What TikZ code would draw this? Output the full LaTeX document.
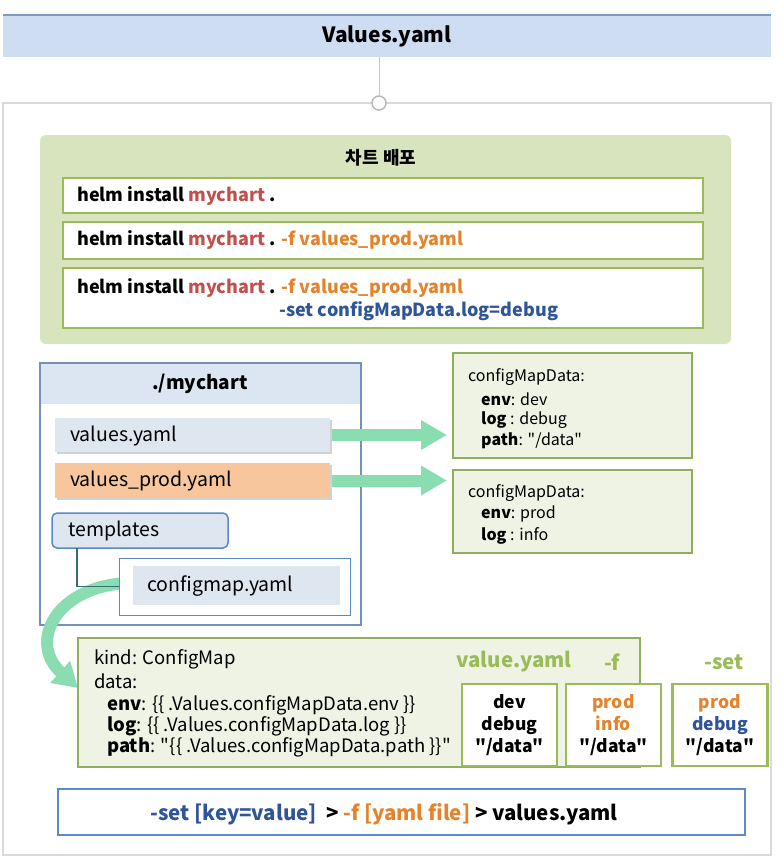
\documentclass[tikz,border=0pt]{standalone}
\usepackage{fontspec}
\setmainfont{Noto Sans CJK KR}[Ligatures=TeXOff]
\usetikzlibrary{arrows.meta,shadows}
\newcommand\dq{"}
\definecolor{topblue}{HTML}{CFDDF2}
\definecolor{topline}{HTML}{7D9CC0}
\definecolor{framegray}{HTML}{DADADA}
\definecolor{panelgreen}{HTML}{D7E4BD}
\definecolor{boxgreen}{HTML}{9BBB59}
\definecolor{chartred}{HTML}{C0504D}
\definecolor{forange}{HTML}{E4832C}
\definecolor{setblue}{HTML}{2F5597}
\definecolor{hdrblue}{HTML}{DCE6F2}
\definecolor{fileblue}{HTML}{DEE6F0}
\definecolor{orangefill}{HTML}{F8C69D}
\definecolor{tmplborder}{HTML}{5B8AC6}
\definecolor{mcborder}{HTML}{7292BA}
\definecolor{arrowgreen}{HTML}{89DDB0}
\definecolor{lightgreen}{HTML}{EEF3E4}
\definecolor{cmborder}{HTML}{8FAF5F}
\definecolor{tealline}{HTML}{31706C}
\tikzset{
  box/.style={rectangle, inner sep=0pt, outer sep=0pt},
  cmdbox/.style={box, fill=white, draw=boxgreen, line width=2pt, minimum width=640},
  filebox/.style={box, minimum width=275, drop shadow={shadow xshift=1.5pt, shadow yshift=-2pt, opacity=0.35}},
  databox/.style={box, fill=lightgreen, draw=cmborder, line width=1.5pt},
  valbox/.style={box, fill=white, draw=boxgreen, line width=2.5pt, minimum width=95, minimum height=82, align=center, font=\bfseries\fontsize{17.5}{22}\selectfont},
  lbl/.style={anchor=west, inner sep=0pt},
  cmdtxt/.style={lbl, font=\bfseries\fontsize{18}{20}\selectfont},
  filetxt/.style={lbl, font=\fontsize{19.5}{22}\selectfont},
  datatxt/.style={lbl, font=\fontsize{16}{19}\selectfont},
  kindtxt/.style={lbl, font=\fontsize{18.5}{19}\selectfont},
  head/.style={inner sep=0pt, font=\bfseries\fontsize{20.5}{22}\selectfont, text=boxgreen},
  bigarrow/.style={arrowgreen, line width=12pt, -{Triangle[length=26pt, width=28pt]}}
}
\begin{document}
\begin{tikzpicture}[x=1pt,y=-1pt]
\useasboundingbox (0,0) rectangle (784,859);
\fill[white] (0,0) rectangle (784,859);
% outer frame
\node[box, draw=framegray, line width=2.5pt, minimum width=768, minimum height=752] (frame) at (387,479) {};
% top bar
\node[box, fill=topblue, minimum width=768, minimum height=42, font=\bfseries\fontsize{21}{24}\selectfont] (top) at (387,36) {Values.yaml};
\draw[topline, line width=2pt] (top.north west) -- (top.north east);
\node[circle, draw=gray!55, fill=white, line width=1.5pt, minimum size=14, inner sep=0pt] (knob) at (379,103) {};
\draw[gray!45, line width=1pt] (top.south -| knob) -- (knob.north);
% green panel
\node[box, fill=panelgreen, rounded corners=6pt, minimum width=691, minimum height=209] (panel) at (385.5,239.5) {};
\node[inner sep=0pt, font=\bfseries\fontsize{18}{20}\selectfont] (ptitle) at (381,158) {차트 배포};
\node[cmdbox, minimum height=35] (c1) at (383,195.5) {};
\node[cmdtxt] (c1t) at (77,196) {helm install \textcolor{chartred}{mychart} .};
\node[cmdbox, minimum height=37] (c2) at (383,240.5) {};
\node[cmdtxt] (c2t) at (77,240) {helm install \textcolor{chartred}{mychart} . \textcolor{forange}{-f values\_prod.yaml}};
\node[cmdbox, minimum height=60] (c3) at (383,298) {};
\node[cmdtxt] (c3t) at (77,288) {helm install \textcolor{chartred}{mychart} . \textcolor{forange}{-f values\_prod.yaml}};
\node[cmdtxt, text=setblue] (c3s) at (279,311) {-set configMapData.log=debug};
% mychart
\fill[hdrblue] (40,363) rectangle (361,404);
\node[box, draw=mcborder, line width=1.2pt, minimum width=321, minimum height=262] (mc) at (200.5,494) {};
\node[inner sep=0pt, font=\bfseries\fontsize{19}{22}\selectfont] (mct) at (200,384) {./mychart};
\node[filebox, fill=fileblue, minimum height=34] (vy) at (192.5,435) {};
\node[filetxt] (vyt) at (70,436) {values.yaml};
\node[filebox, fill=orangefill, minimum height=35] (vp) at (192.5,480.5) {};
\node[filetxt] (vpt) at (70,481) {values\_prod.yaml};
% curved arrow
\draw[arrowgreen, line width=12pt, -{Triangle[length=24pt, width=28pt]}] (145,583) .. controls (60,578) and (25,640) .. (78,688);
\node[box, fill=fileblue, draw=tmplborder, line width=1.5pt, rounded corners=5pt, minimum width=176, minimum height=35] (tm) at (140,530.5) {};
\node[filetxt] (tmt) at (68,531) {templates};
\node[box, fill=white, draw=tmplborder, line width=1pt, minimum width=231, minimum height=57] (cmo) at (234.5,586.5) {};
\node[box, fill=fileblue, minimum width=207, minimum height=39] (cmi) at (236.5,585.5) {};
\node[filetxt] (cmt) at (147,586) {configmap.yaml};
\draw[tealline, line width=1.5pt] (tm.south -| 77,548) |- (cmo.west);
% data boxes
\node[databox, minimum width=239, minimum height=105] (d1) at (572.5,405.5) {};
\node[datatxt] (d1a) at (468,377) {configMapData:};
\node[datatxt] (d1b) at (481,399) {\textbf{env}: dev};
\node[datatxt] (d1c) at (481,420) {\textbf{log} : debug};
\node[datatxt] (d1d) at (481,441) {\textbf{path}: \dq/data\dq};
\node[databox, minimum width=239, minimum height=83] (d2) at (572.5,511.5) {};
\node[datatxt] (d2a) at (468,493) {configMapData:};
\node[datatxt] (d2b) at (481,514) {\textbf{env}: prod};
\node[datatxt] (d2c) at (481,536) {\textbf{log} : info};
\draw[bigarrow, shorten <=2pt, shorten >=6pt] (vy.east) -- (vy.east -| d1.west);
\draw[bigarrow, shorten <=2pt, shorten >=6pt] (vp.east) -- (vp.east -| d2.west);
% kind box
\node[databox, minimum width=562, minimum height=129] (kb) at (359,702.5) {};
\node[kindtxt] (k1) at (94,659) {kind: ConfigMap};
\node[kindtxt] (k2) at (94,681) {data:};
\node[kindtxt] (k3) at (107,705) {\textbf{env}: \{\{ .Values.configMapData.env \}\}};
\node[kindtxt] (k4) at (107,726) {\textbf{log}: \{\{ .Values.configMapData.log \}\}};
\node[kindtxt] (k5) at (107,747) {\textbf{path}: \dq\{\{ .Values.configMapData.path \}\}\dq};
\node[head] (h1) at (514,662) {value.yaml};
\node[head] (h2) at (612,662) {-f};
\node[head] (h3) at (724,662) {-set};
\node[valbox] (v1) at (509.5,725) {dev\\debug\\\dq/data\dq};
\node[valbox] (v2) at (613.5,725) {\textcolor{forange}{prod}\\\textcolor{forange}{info}\\\dq/data\dq};
\node[valbox] (v3) at (720,725) {\textcolor{forange}{prod}\\\textcolor{setblue}{debug}\\\dq/data\dq};
% bottom
\node[box, draw=tmplborder, line width=2pt, minimum width=687, minimum height=46] (bt) at (401.5,812) {};
\node[inner sep=0pt, font=\bfseries\fontsize{20.5}{22}\selectfont] (btt) at (384,814) {\textcolor{setblue}{-set [key=value]}\ \ > \textcolor{forange}{-f [yaml file]} > values.yaml};
\end{tikzpicture}
\end{document}
